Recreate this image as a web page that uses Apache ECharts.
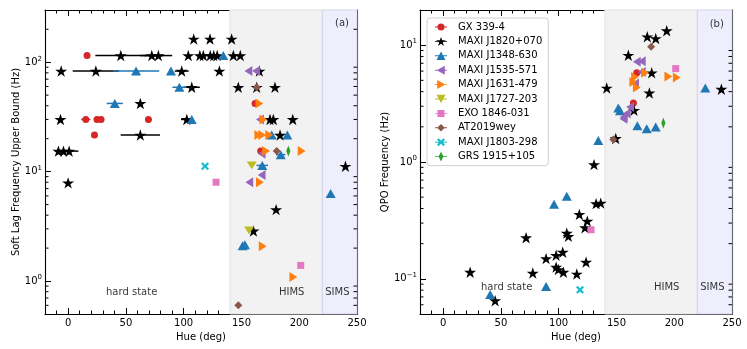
<!DOCTYPE html>
<html>
<head>
<meta charset="utf-8">
<script src="https://cdn.jsdelivr.net/npm/echarts@6/dist/echarts.min.js"></script>
<style>
  html, body { margin: 0; padding: 0; background: #fff; }
  #chart { width: 747px; height: 349px; }
</style>
</head>
<body>
<div id="chart"></div>
<script>
// sources, in legend order
const sources = ['GX 339-4', 'MAXI J1820+070', 'MAXI J1348-630', 'MAXI J1535-571', 'MAXI J1631-479',
  'MAXI J1727-203', 'EXO 1846-031', 'AT2019wey', 'MAXI J1803-298', 'GRS 1915+105'];

// panel (a): soft lag frequency upper bound, [hue, Hz, hue error]
const lagGX = [[16.4, 115], [15.3, 30, 4], [25, 30], [28.5, 30], [69.5, 30], [22.8, 21.6, 2], [161.8, 42], [166.7, 15.4]];
const lagJ1820 = [[-6, 83], [-6.6, 30], [-8.4, 15.4], [-4, 15.4], [0.9, 15.4, 8], [0, 7.9],
  [24, 83, 20], [98.3, 83, 6], [130.9, 83], [165.5, 83],
  [45.6, 115, 22], [72.4, 115, 10], [78.1, 115, 12], [104, 115], [114, 115], [117, 115], [123, 115],
  [126, 115], [129, 115], [143, 115], [149, 115],
  [108.7, 163], [122.8, 163], [141.5, 163],
  [62.5, 42], [62.5, 21.6, 17],
  [107, 59, 7], [147.3, 59], [163.2, 59], [179, 59],
  [102.7, 30, 5], [174.7, 30], [177.6, 30], [194.4, 30],
  [183.4, 21.6], [240, 11.2], [180, 4.5], [160.4, 2.87]];
const lagJ1348 = [[58.8, 83, 20], [89, 83], [40.4, 42, 7], [96.3, 59, 6], [107, 30], [134.3, 115],
  [176.2, 21.6], [189.7, 21.6], [184, 14.3, 4], [168, 11.4, 5], [227.2, 6.3], [151, 2.1], [153, 2.15]];
const lagJ1535 = [[156, 83], [162.6, 83], [166, 30], [167.5, 14.6], [167.5, 9.3], [156.8, 8.0]];
const lagJ1631 = [[165.5, 42], [169, 30], [164.6, 21.6], [168, 21.6], [174, 21.6], [171.3, 15.4],
  [202.1, 15.4], [166, 8.0], [168.4, 2.08], [194.9, 1.09]];
const lagJ1727 = [[158.9, 11.4], [156.6, 2.9]];
const lagEXO = [[128, 8.0], [201.3, 1.39]];
const lagAT = [[163.2, 59], [180.5, 15.4], [147.3, 0.6]];
const lagJ1803 = [[118.5, 11.2]];
const lagGRS = [[190.6, 15.4]];

// panel (b): QPO frequency, [hue, Hz]
const qpoGX = [[167.6, 5.8], [164.7, 3.2]];
const qpoJ1820 = [[193.5, 13.3], [176.7, 11.8], [184, 11.4], [160.3, 8.2], [180.5, 5.8], [141.6, 4.3],
  [178.5, 3.9], [240.8, 4.2], [165.2, 2.77], [149.4, 1.59], [130.6, 0.95], [132.4, 0.44], [136.4, 0.445],
  [117.9, 0.356], [124.8, 0.312], [122.8, 0.274], [107, 0.246], [108.4, 0.231], [71.8, 0.225],
  [103.5, 0.169], [97.8, 0.159], [89.1, 0.149], [123.7, 0.139], [97.8, 0.126], [99.7, 0.12],
  [104.1, 0.114], [115.7, 0.11], [77.6, 0.112], [23.4, 0.114], [45, 0.065]];
const qpoJ1348 = [[226.9, 4.3], [151.6, 2.9], [153.1, 2.74], [168.1, 2.04], [176.2, 1.93], [184, 1.99],
  [134.3, 1.53], [107, 0.51], [96, 0.434], [89.1, 0.086], [40.7, 0.0734]];
const qpoJ1535 = [[167.6, 7.2], [171.9, 7.3], [171.9, 5.9], [166.1, 4.7], [161.8, 2.95], [158.9, 2.6],
  [156, 2.35], [156.3, 2.43]];
const qpoJ1631 = [[166.1, 5.35], [174.7, 5.8], [164.6, 4.85], [167.6, 4.34], [194.9, 5.4], [202.2, 5.3]];
const qpoJ1727 = [];
const qpoEXO = [[201.3, 6.3], [128, 0.263]];
const qpoAT = [[180, 9.7], [147.3, 1.56]];
const qpoJ1803 = [[118.5, 0.0805]];
const qpoGRS = [[190.6, 2.16]];

// axes
const hueRange = [-20, 250];
const lagRange = [0.5, 300];
const qpoRange = [0.05, 20];
const lagMinorTicks = [0.6, 0.7, 0.8, 0.9, 2, 3, 4, 5, 6, 7, 8, 9, 20, 30, 40, 50, 60, 70, 80, 90, 200];
const qpoMinorTicks = [0.06, 0.07, 0.08, 0.09, 0.2, 0.3, 0.4, 0.5, 0.6, 0.7, 0.8, 0.9, 2, 3, 4, 5, 6, 7, 8, 9];

// state bands and notes
const stateBands = [[140, 220], [220, 250]];
const lagNotes = [[55, 0.78, 'hard state'], [193.5, 0.78, 'HIMS'], [233, 0.78, 'SIMS'], [237, 227, '(a)']];
const qpoNotes = [[55, 0.084, 'hard state'], [193.5, 0.084, 'HIMS'], [233, 0.084, 'SIMS'], [236.8, 15.2, '(b)']];

const FONT = 'DejaVu Sans';
const STAR = 'path://M50 0 L61.23 34.55 L97.55 34.55 L68.16 55.9 L79.39 90.45 L50 69.1 L20.61 90.45 L31.84 55.9 L2.45 34.55 L38.77 34.55 Z';
const styles = [
  { color: '#d62728', symbol: 'circle', size: 7 },
  { color: '#000000', symbol: STAR, size: 12 },
  { color: '#1f77b4', symbol: 'triangle', size: [10, 9] },
  { color: '#9467bd', symbol: 'path://M0 50 L87 0 L87 100 Z', size: [9, 10] },
  { color: '#ff7f0e', symbol: 'path://M87 50 L0 0 L0 100 Z', size: [9, 10] },
  { color: '#bcbd22', symbol: 'path://M0 0 L100 0 L50 87 Z', size: [10, 9] },
  { color: '#e377c2', symbol: 'rect', size: 7 },
  { color: '#8c564b', symbol: 'diamond', size: 8 },
  { color: '#17becf', symbol: 'path://M20 0 L50 30 L80 0 L100 20 L70 50 L100 80 L80 100 L50 70 L20 100 L0 80 L30 50 L0 20 Z', size: 8 },
  { color: '#2ca02c', symbol: 'path://M50 0 L80 50 L50 100 L20 50 Z', size: [7, 11] },
];

// legend icons: marker with a short errorbar line through it (120x100 box)
const iconBox = 'M0 0 L0.5 0 M120 100 L119.5 100 M0 45.5 L120 45.5 L120 54.5 L0 54.5 Z ';
const legendMarks = [
  'M25 50 A35 35 0 1 1 95 50 A35 35 0 1 1 25 50 Z',
  'M60 5 L71.23 39.55 L107.55 39.55 L78.16 60.9 L89.39 95.45 L60 74.1 L30.61 95.45 L41.84 60.9 L12.45 39.55 L48.77 39.55 Z',
  'M60 8 L105 92 L15 92 Z',
  'M18 50 L98 5 L98 95 Z',
  'M102 50 L22 95 L22 5 Z',
  'M15 8 L105 8 L60 92 Z',
  'M25 15 L95 15 L95 85 L25 85 Z',
  'M60 12 L98 50 L60 88 L22 50 Z',
  'M36 10 L60 34 L84 10 L100 26 L76 50 L100 74 L84 90 L60 66 L36 90 L20 74 L44 50 L20 26 Z',
  'M60 2 L84 50 L60 98 L36 50 Z',
];

const lagData = [lagGX, lagJ1820, lagJ1348, lagJ1535, lagJ1631, lagJ1727, lagEXO, lagAT, lagJ1803, lagGRS];
const qpoData = [qpoGX, qpoJ1820, qpoJ1348, qpoJ1535, qpoJ1631, qpoJ1727, qpoEXO, qpoAT, qpoJ1803, qpoGRS];

const grids = [
  { left: 45, top: 10, width: 312, height: 304 },
  { left: 420, top: 10, width: 312, height: 304 },
];

const axisLine = { onZero: false, lineStyle: { color: '#000', width: 1.1 } };
const tickStyle = { color: '#000', width: 1 };

const powLabel = (v) => {
  const l = Math.log10(v);
  const e = Math.round(l);
  if (Math.abs(l - e) > 1e-6) return '';
  return '10{e|' + (e < 0 ? '\u2212' + (-e) : e) + '}';
};

const xAxes = (gi) => {
  const base = {
    type: 'value', gridIndex: gi, min: hueRange[0], max: hueRange[1],
    splitLine: { show: false }, axisLine,
    axisTick: { inside: true, length: 6, lineStyle: tickStyle },
    minorTick: { show: true, splitNumber: 5, length: 3.5, lineStyle: tickStyle },
  };
  return [
    { ...base, position: 'bottom', name: 'Hue (deg)', nameLocation: 'middle', nameGap: 14,
      nameTextStyle: { fontFamily: FONT, fontSize: 10, color: '#000' },
      axisLabel: { fontFamily: FONT, fontSize: 10, color: '#000', margin: 4, showMinLabel: false,
        formatter: (v) => (v < 0 ? '' : String(v)) } },
    { ...base, position: 'top', axisLabel: { show: false } },
  ];
};

const yAxes = (gi, range, title, gap) => {
  const base = {
    type: 'log', logBase: 10, gridIndex: gi, min: range[0], max: range[1],
    splitLine: { show: false }, axisLine,
    axisTick: { inside: true, length: 6, lineStyle: tickStyle },
    minorTick: { show: false },
  };
  return [
    { ...base, position: 'left', name: title, nameLocation: 'middle', nameGap: gap,
      nameTextStyle: { fontFamily: FONT, fontSize: 10, color: '#000' },
      axisLabel: { fontFamily: FONT, fontSize: 10, color: '#000', margin: 3, formatter: powLabel,
        rich: { e: { fontFamily: FONT, fontSize: 7, color: '#000', padding: [0, 0, 7, 0] } } } },
    { ...base, position: 'right', axisLabel: { show: false } },
  ];
};

const series = [];

const addPanel = (gi, data, range, minorTicks, notes) => {
  const ax = { xAxisIndex: gi * 2, yAxisIndex: gi * 2 };
  // shaded states + text notes
  series.push({
    type: 'scatter', ...ax, name: 'notes' + gi, symbolSize: 0, silent: true, z: 1,
    data: notes.map((n) => ({ value: [n[0], n[1]], label: { formatter: n[2] } })),
    label: { show: true, position: 'inside', fontFamily: FONT, fontSize: 10, color: '#000' },
    markArea: {
      silent: true,
      data: [
        [{ xAxis: stateBands[0][0], yAxis: range[0], itemStyle: { color: '#f2f2f2', borderColor: '#e2e2e2', borderWidth: 1 } },
         { xAxis: stateBands[0][1], yAxis: range[1] }],
        [{ xAxis: stateBands[1][0], yAxis: range[0], itemStyle: { color: '#eeeefc', borderColor: '#d4d4ea', borderWidth: 1 } },
         { xAxis: stateBands[1][1], yAxis: range[1] }],
      ],
    },
  });
  // minor log ticks on left and right
  series.push({
    type: 'custom', ...ax, silent: true, z: 10,
    data: minorTicks.map((v) => [hueRange[0], v]),
    renderItem: (params, api) => {
      const v = api.value(1);
      const l = api.coord([hueRange[0], v]);
      const r = api.coord([hueRange[1], v]);
      return { type: 'group', children: [
        { type: 'line', shape: { x1: l[0], y1: l[1], x2: l[0] + 3.5, y2: l[1] }, style: { stroke: '#000', lineWidth: 1 } },
        { type: 'line', shape: { x1: r[0], y1: r[1], x2: r[0] - 3.5, y2: r[1] }, style: { stroke: '#000', lineWidth: 1 } },
      ] };
    },
  });
  data.forEach((pts, i) => {
    const st = styles[i];
    const withErr = pts.filter((p) => p.length > 2);
    if (withErr.length) {
      series.push({
        type: 'custom', ...ax, name: sources[i] + ' err', silent: true, z: 3,
        data: withErr,
        renderItem: (params, api) => {
          const a = api.coord([api.value(0) - api.value(2), api.value(1)]);
          const b = api.coord([api.value(0) + api.value(2), api.value(1)]);
          return { type: 'line', shape: { x1: a[0], y1: a[1], x2: b[0], y2: b[1] }, style: { stroke: st.color, lineWidth: 1.5 } };
        },
      });
    }
    series.push({
      type: 'scatter', ...ax, name: sources[i], z: 4,
      symbol: st.symbol, symbolSize: st.size, symbolKeepAspect: true,
      itemStyle: { color: st.color, opacity: 1 },
      data: pts.map((p) => [p[0], p[1]]),
    });
  });
};

addPanel(0, lagData, lagRange, lagMinorTicks, lagNotes);
addPanel(1, qpoData, qpoRange, qpoMinorTicks, qpoNotes);

const chart = echarts.init(document.getElementById('chart'));
chart.setOption({
  animation: false,
  backgroundColor: '#fff',
  textStyle: { fontFamily: FONT },
  grid: grids,
  xAxis: [...xAxes(0), ...xAxes(1)],
  yAxis: [...yAxes(0, lagRange, 'Soft Lag Frequency Upper Bound (Hz)', 23), ...yAxes(1, qpoRange, 'QPO Frequency (Hz)', 28)],
  legend: {
    data: sources.map((s, i) => ({ name: s, icon: 'path://' + iconBox + legendMarks[i] })),
    orient: 'vertical', left: 427, top: 18,
    itemWidth: 12, itemHeight: 10, itemGap: 4.4,
    textStyle: { fontFamily: FONT, fontSize: 10, color: '#000', lineHeight: 10, padding: [0, 0, 0, 6] },
    backgroundColor: '#fff', borderColor: '#d0d0d0', borderWidth: 1, borderRadius: 3,
    padding: [4, 6, 4, 8],
  },
  series,
});
</script>
</body>
</html>
